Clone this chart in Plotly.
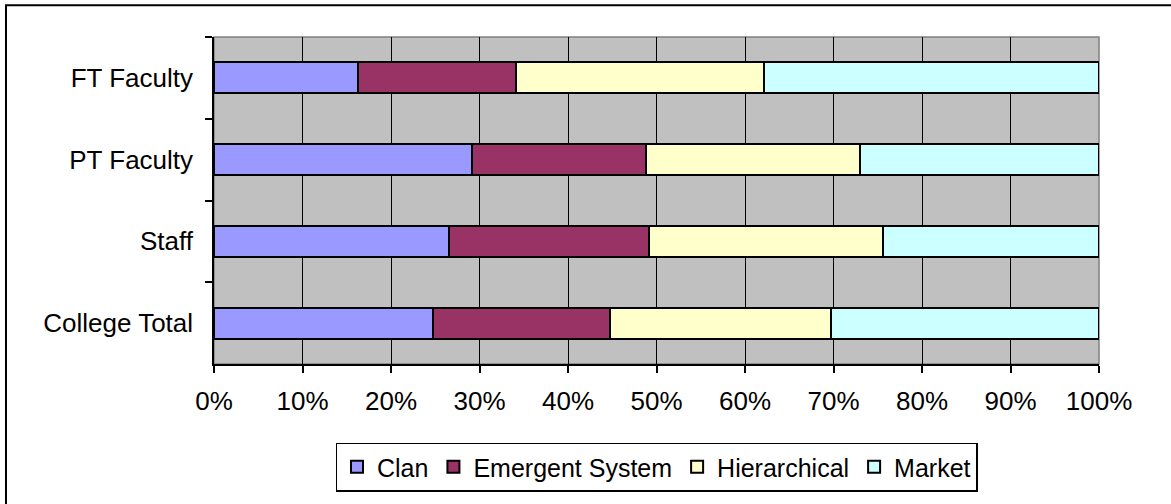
import plotly.graph_objects as go

# Data (percent of respondents), categories listed top to bottom
categories = ["FT Faculty", "PT Faculty", "Staff", "College Total"]
clan = [16.3, 29.2, 26.5, 24.8]
emergent = [17.8, 19.6, 22.6, 20.0]
hierarchical = [28.1, 24.2, 26.5, 24.9]
market = [37.8, 27.0, 24.4, 30.3]

series_names = ["Clan", "Emergent System", "Hierarchical", "Market"]
series_values = [clan, emergent, hierarchical, market]
series_colors = ["#9999FF", "#993366", "#FFFFCC", "#CCFFFF"]

x_tickvals = [0, 10, 20, 30, 40, 50, 60, 70, 80, 90, 100]
x_ticktext = ["0%", "10%", "20%", "30%", "40%", "50%", "60%", "70%", "80%", "90%", "100%"]

FONT = "Liberation Sans, Arial, sans-serif"

fig = go.Figure()
for name, vals, col in zip(series_names, series_values, series_colors):
    fig.add_trace(go.Bar(
        y=categories, x=vals, name=name, orientation="h",
        marker=dict(color=col, line=dict(color="black", width=2)),
    ))

W, H = 1171, 504
L, R, T, B = 214, 72, 37, 138
pw = W - L - R
ph = H - T - B

fig.update_layout(
    width=W, height=H,
    margin=dict(l=L, r=R, t=T, b=B, pad=0),
    barmode="stack",
    bargap=0.62,
    paper_bgcolor="white",
    plot_bgcolor="#C0C0C0",
    font=dict(family=FONT, size=26, color="black"),
    showlegend=True,
    legend=dict(
        orientation="h", x=0.5, xanchor="center",
        y=(ph - (445 - T)) / ph, yanchor="top",
        bgcolor="white", bordercolor="black", borderwidth=1.5,
        font=dict(family=FONT, size=25, color="black"),
        traceorder="normal",
    ),
    xaxis=dict(
        range=[0, 100], tickmode="array", tickvals=x_tickvals, ticktext=x_ticktext,
        showgrid=True, gridcolor="black", gridwidth=1,
        showline=True, linecolor="black", linewidth=1.5,
        ticks="outside", ticklen=7, tickcolor="black", tickwidth=1.5,
        zeroline=False, fixedrange=True,
        ticklabelstandoff=6,
    ),
    yaxis=dict(
        autorange="reversed",
        showgrid=False,
        showline=True, linecolor="black", linewidth=1.5,
        ticks="outside", ticklen=7, tickcolor="black", tickwidth=1.5,
        tickson="boundaries",
        ticklabelstandoff=14,
        fixedrange=True,
    ),
    shapes=[
        # gray plot-area border (top/right)
        dict(type="rect", xref="paper", yref="paper", x0=0, x1=1, y0=0, y1=1,
             line=dict(color="#808080", width=1.5), layer="below"),
        # outer chart border (only top and left visible in frame)
        dict(type="rect", xref="paper", yref="paper",
             x0=(6 - L) / pw, x1=(W + 20 - L) / pw,
             y0=-(H + 20 - T - ph) / ph, y1=(ph + T - 5) / ph,
             line=dict(color="black", width=2)),
    ],
)

fig.write_html("out.html", config={"displayModeBar": False},
               post_script="document.body.style.margin='0px';")
